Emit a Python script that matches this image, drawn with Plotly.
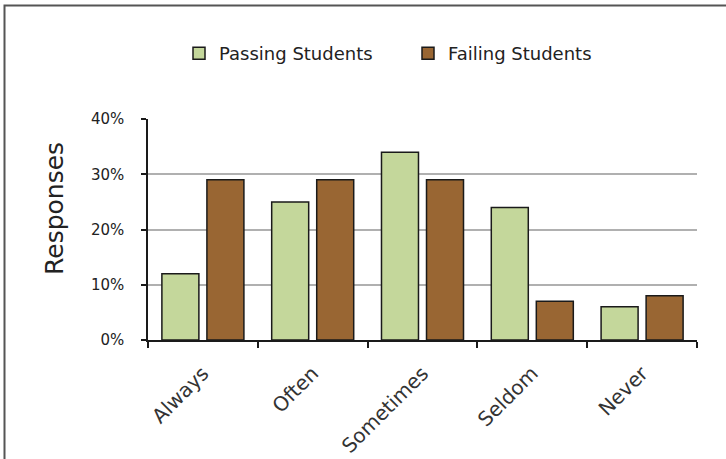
import plotly.graph_objects as go

categories = ["Always", "Often", "Sometimes", "Seldom", "Never"]
passing = [0.12, 0.25, 0.34, 0.24, 0.06]
failing = [0.29, 0.29, 0.29, 0.07, 0.08]
series_names = ["Passing Students", "Failing Students"]
y_ticks = [0, 0.1, 0.2, 0.3, 0.4]
y_ticklabels = ["0%", "10%", "20%", "30%", "40%"]

W, H = 726, 459
L, R, T, B = 148, 29, 119, 119
pw, ph = W - L - R, H - T - B

def px_x(x):
    return (x - L) / pw

def px_y(y):
    return (H - B - y) / ph

font = "DejaVu Sans"
line_col = "#1a1a1a"

fig = go.Figure()
fig.add_trace(go.Bar(x=categories, y=passing, name=series_names[0],
                     marker=dict(color="#c4d79b", line=dict(color=line_col, width=1.5))))
fig.add_trace(go.Bar(x=categories, y=failing, name=series_names[1],
                     marker=dict(color="#996633", line=dict(color=line_col, width=1.5))))

fig.update_layout(
    width=W, height=H,
    margin=dict(l=L, r=R, t=T, b=B, autoexpand=False),
    paper_bgcolor="white", plot_bgcolor="white",
    barmode="group", bargap=0.18, bargroupgap=0.178,
    font=dict(family=font, color="#222222"),
    showlegend=True,
    legend=dict(orientation="h", x=px_x(408), xanchor="center", y=px_y(53.5), yanchor="middle",
                font=dict(size=18, family=font, color="#222222"), bgcolor="rgba(0,0,0,0)",
                traceorder="normal", entrywidth=184, entrywidthmode="pixels"),
    xaxis=dict(
        showline=True, linecolor=line_col, linewidth=1.5,
        ticks="outside", ticklen=6, tickwidth=1.5, tickcolor=line_col,
        tickson="boundaries", tickangle=-45,
        tickfont=dict(size=20, family=font, color="#333333"),
        ticklabelstandoff=12,
        showgrid=False, zeroline=False,
    ),
    yaxis=dict(
        range=[0, 0.4], tickvals=y_ticks, ticktext=y_ticklabels,
        showline=True, linecolor=line_col, linewidth=1.5,
        ticks="outside", ticklen=5, tickwidth=1.5, tickcolor=line_col,
        tickfont=dict(size=15, family=font, color="#222222"),
        ticklabelstandoff=14,
        showgrid=True, gridcolor="#b0b0b0", gridwidth=1.5, zeroline=False,
    ),
    annotations=[dict(text="Responses", x=px_x(54), y=px_y(209), xref="paper", yref="paper",
                      textangle=-90, showarrow=False, xanchor="center", yanchor="middle",
                      font=dict(size=25, family=font, color="#222222"))],
    shapes=[dict(type="rect", xref="paper", yref="paper",
                 x0=px_x(4.5), x1=px_x(740), y0=px_y(480), y1=px_y(5.5),
                 line=dict(color="#555555", width=2), fillcolor="rgba(0,0,0,0)", layer="below")],
)

fig.write_html("out.html")
